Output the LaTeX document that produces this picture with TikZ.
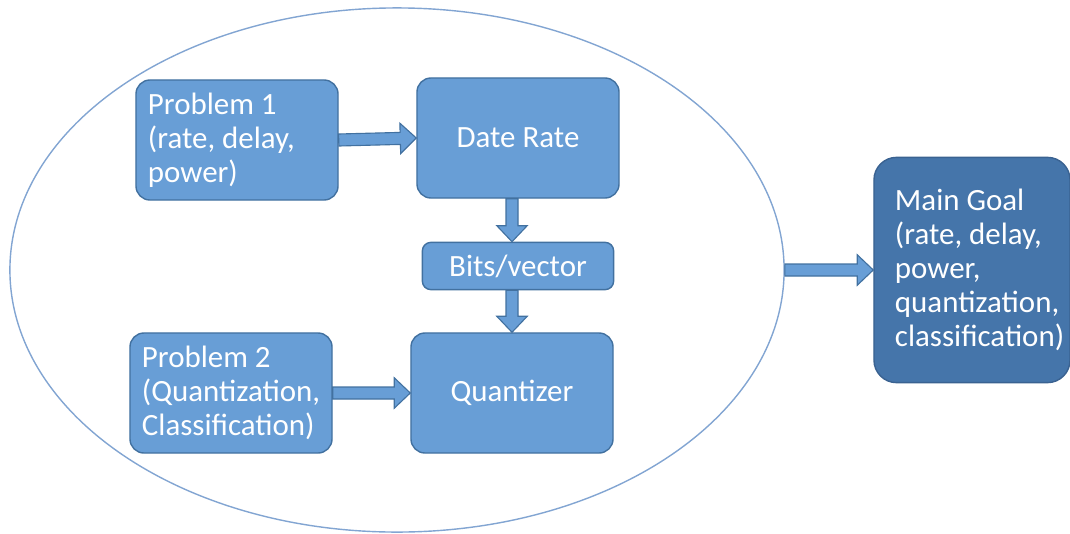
\documentclass[tikz,border=0pt]{standalone}
\usepackage{fontspec}
\setmainfont{Carlito}
\usetikzlibrary{shapes.geometric,calc}
\definecolor{boxfill}{RGB}{104,158,214}
\definecolor{boxline}{RGB}{66,113,160}
\definecolor{goalfill}{RGB}{69,117,170}
\definecolor{goalline}{RGB}{58,98,145}
\definecolor{ringline}{RGB}{130,165,210}
\tikzset{
  blockbox/.style={draw=boxline, fill=boxfill, line width=1pt, rounded corners=10pt,
    text=white, font=\fontsize{22}{24.2}\selectfont,
    minimum width=5.05cm, minimum height=3cm, inner sep=0pt},
  flowarrow/.style={draw=boxline, fill=boxfill, line width=0.8pt,
    to path={let \p1=($(\tikztotarget)!0.4cm!(\tikztostart)$) in
      ($(\tikztostart)!0.15cm!90:(\tikztotarget)$)
      -- ($(\p1)!0.15cm!90:(\tikztotarget)$)
      -- ($(\p1)!0.38cm!90:(\tikztotarget)$)
      -- (\tikztotarget)
      -- ($(\p1)!0.38cm!-90:(\tikztotarget)$)
      -- ($(\p1)!0.15cm!-90:(\tikztotarget)$)
      -- ($(\tikztostart)!0.15cm!-90:(\tikztotarget)$) -- cycle}}
}
\begin{document}
\begin{tikzpicture}[x=0.025cm,y=-0.025cm]
  \useasboundingbox (0,0) rectangle (1070,533);
  % enclosing ellipse
  \node[ellipse, draw=ringline, line width=1pt, minimum width=19.35cm,
    minimum height=13.1cm, inner sep=0pt] (sys) at (397,270) {};
  % boxes
  \node[blockbox, text width=4.45cm, align=flush left] (prob1) at (237,140)
    {Problem~1\\(rate,~delay,\\power)};
  \node[blockbox] (rate) at (518,138) {Date Rate};
  \node[blockbox, minimum width=4.78cm, minimum height=1.18cm, rounded corners=6pt]
    (bits) at (518,266) {Bits/vector};
  \node[blockbox, text width=4.45cm, align=flush left] (prob2) at (231,393)
    {Problem~2\\(Quantization,\\Classification)};
  \node[blockbox] (quant) at (512,393) {Quantizer};
  \node[blockbox, draw=goalline, fill=goalfill, rounded corners=16pt,
    minimum width=4.9cm, minimum height=5.63cm, text width=3.85cm, align=flush left]
    (goal) at (972,270)
    {Main~Goal\\(rate,~delay,\\power,\\quantization,\\classification)};
  % arrows
  \draw[flowarrow] (prob1.east) to (rate.west);
  \draw[flowarrow] (quant.north |- rate.south) to (quant.north |- bits.north);
  \draw[flowarrow] (quant.north |- bits.south) to (quant.north);
  \draw[flowarrow] (prob2.east) to (quant.west);
  \draw[flowarrow] (sys.east) to (goal.west);
\end{tikzpicture}
\end{document}
